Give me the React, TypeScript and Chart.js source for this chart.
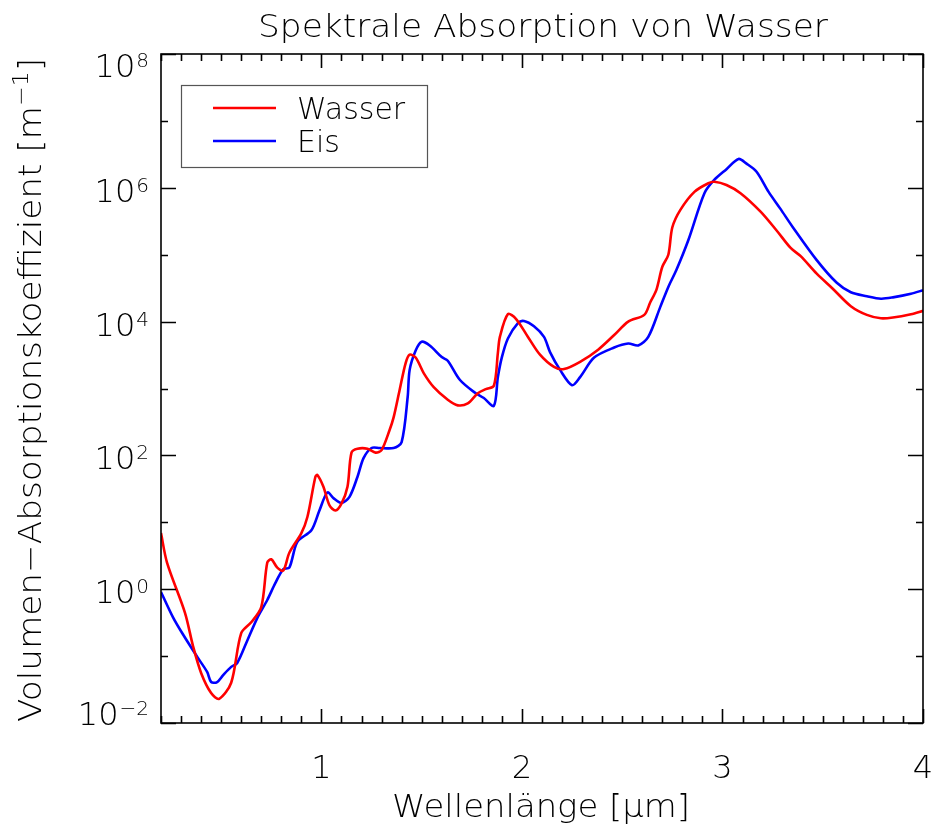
import React, { useEffect, useRef } from "react";
import { Chart, registerables } from "chart.js";

Chart.register(...registerables);

// Spectral absorption of liquid water (Wasser) — wavelength [µm], coefficient [1/m]
const wasserWavelength = [
  0.2, 0.23, 0.32, 0.36, 0.4, 0.45, 0.49, 0.55, 0.6, 0.65, 0.7, 0.73, 0.75, 0.78, 0.81, 0.84,
  0.9, 0.93, 0.97, 0.98, 1.01, 1.04, 1.07, 1.1, 1.13, 1.15, 1.18, 1.23, 1.27, 1.3, 1.34, 1.36,
  1.39, 1.42, 1.44, 1.47, 1.51, 1.56, 1.63, 1.68, 1.73, 1.78, 1.82, 1.86, 1.88, 1.89, 1.93,
  1.97, 2.03, 2.09, 2.16, 2.21, 2.29, 2.38, 2.46, 2.53, 2.61, 2.64, 2.67, 2.7, 2.73, 2.75,
  2.79, 2.86, 2.93, 2.96, 3.02, 3.09, 3.19, 3.27, 3.34, 3.39, 3.47, 3.55, 3.64, 3.72, 3.79,
  3.85, 3.94, 4.0,
];
const wasserAbsorption = [
  6.9, 2.5, 0.44, 0.14, 0.056, 0.028, 0.023, 0.04, 0.22, 0.32, 0.54, 2.5, 2.8, 2.1, 1.9, 3.5,
  6.9, 12, 48, 51, 34, 18, 15, 19, 34, 110, 126, 126, 110, 120, 240, 370,
  950, 2400, 3200, 2900, 1700, 1050, 680, 560, 600, 850, 980, 1100, 3400, 5900, 12900,
  11000, 5900, 3200, 2100, 1950, 2500, 3800, 6300, 10000, 12600, 19500, 29500, 66000, 100000, 257000,
  468000, 870000, 1170000, 1230000, 1100000, 830000, 440000, 230000, 126000, 95000, 52000, 31000, 17000, 12600, 11200,
  11500, 12900, 14500,
];

// Ice (Eis)
const eisWavelength = [
  0.2, 0.26, 0.31, 0.38, 0.43, 0.45, 0.48, 0.51, 0.55, 0.58, 0.63, 0.68, 0.73, 0.77, 0.81, 0.84,
  0.88, 0.95, 0.99, 1.03, 1.06, 1.1, 1.14, 1.18, 1.21, 1.25, 1.29, 1.36, 1.4, 1.43, 1.44, 1.47,
  1.5, 1.54, 1.6, 1.63, 1.69, 1.76, 1.81, 1.86, 1.88, 1.9, 1.93, 1.98, 2.01, 2.06, 2.11, 2.14,
  2.19, 2.25, 2.29, 2.36, 2.46, 2.53, 2.58, 2.63, 2.69, 2.73, 2.77, 2.83, 2.91, 2.96, 3.02,
  3.08, 3.12, 3.17, 3.23, 3.29, 3.35, 3.47, 3.57, 3.64, 3.72, 3.79, 3.85, 3.94, 4.0,
];
const eisAbsorption = [
  0.91, 0.38, 0.21, 0.098, 0.058, 0.041, 0.041, 0.052, 0.069, 0.079, 0.17, 0.37, 0.69, 1.23, 2.0, 2.1,
  5.1, 7.6, 15, 28, 23, 19.5, 24, 48, 91, 129, 129, 129, 158, 740, 1900, 3700,
  5000, 4400, 2950, 2600, 1350, 890, 720, 550, 1480, 2950, 5600, 9500, 10200, 8500, 5900, 3500,
  1900, 1120, 1480, 2900, 4100, 4700, 4400, 5900, 16600, 33000, 59000, 166000, 830000, 1320000, 1900000,
  2700000, 2300000, 1740000, 870000, 480000, 260000, 83000, 38000, 27500, 24000, 22000, 23000, 26000, 29500,
];

const seriesLabels = ["Wasser", "Eis"];
const seriesColors = ["#ff0000", "#0000ff"];
const xTickValues = [1, 2, 3, 4];
const yLabelValues = [1e-2, 1e0, 1e2, 1e4, 1e6, 1e8];
const yTickLabelBase = "10";
const yTickLabelExponents = ["\u22122", "0", "2", "4", "6", "8"];
const yDecadeValues = [1e-2, 1e-1, 1e0, 1e1, 1e2, 1e3, 1e4, 1e5, 1e6, 1e7, 1e8];
const titleText = "Spektrale Absorption von Wasser";
const xTitleText = "Wellenlänge [\u03bcm]";
const yTitleMain = "Volumen\u2212Absorptionskoeffizient [m";
const yTitleSup = "\u22121";
const yTitleEnd = "]";

const FONT = '"DejaVu Sans", sans-serif';

function fitText(ctx: CanvasRenderingContext2D, text: string, x: number, y: number, size: number, width: number, align: "left" | "center") {
  ctx.font = `200 ${size}px ${FONT}`;
  const w = ctx.measureText(text).width;
  const s = width / w;
  ctx.save();
  ctx.translate(x, y);
  ctx.scale(s, 1);
  ctx.textAlign = align;
  ctx.textBaseline = "alphabetic";
  ctx.fillText(text, 0, 0);
  ctx.restore();
}

function fitParts(ctx: CanvasRenderingContext2D, parts: { t: string; size: number; dy: number }[], cx: number, y: number, width: number) {
  const widths = parts.map((p) => {
    ctx.font = `200 ${p.size}px ${FONT}`;
    return ctx.measureText(p.t).width;
  });
  const total = widths.reduce((s, w) => s + w, 0);
  const sc = width / total;
  ctx.save();
  ctx.translate(cx - width / 2, y);
  ctx.scale(sc, 1);
  ctx.textAlign = "left";
  ctx.textBaseline = "alphabetic";
  let x = 0;
  parts.forEach((p, i) => {
    ctx.font = `200 ${p.size}px ${FONT}`;
    ctx.fillText(p.t, x, p.dy);
    x += widths[i];
  });
  ctx.restore();
}

const framePlugin = {
  id: "frame",
  afterDraw(chart: any) {
    const { ctx, chartArea: a, scales } = chart;
    const xs = scales.x;
    const ys = scales.y;
    ctx.save();
    ctx.strokeStyle = "#000";
    ctx.fillStyle = "#000";
    ctx.lineWidth = 1.6;
    ctx.strokeRect(a.left, a.top, a.right - a.left, a.bottom - a.top);

    // x ticks every 0.1
    ctx.beginPath();
    for (let i = 2; i <= 40; i++) {
      const v = i / 10;
      const px = Math.round(xs.getPixelForValue(v)) + 0.5;
      const len = i % 10 === 0 ? 14 : 7;
      ctx.moveTo(px, a.bottom);
      ctx.lineTo(px, a.bottom - len);
      ctx.moveTo(px, a.top);
      ctx.lineTo(px, a.top + len);
    }
    // y ticks per decade
    yDecadeValues.forEach((v, i) => {
      const py = Math.round(ys.getPixelForValue(v)) + 0.5;
      const len = i % 2 === 0 ? 15 : 7;
      ctx.moveTo(a.left, py);
      ctx.lineTo(a.left + len, py);
      ctx.moveTo(a.right, py);
      ctx.lineTo(a.right - len, py);
    });
    ctx.stroke();

    // y tick labels
    yLabelValues.forEach((v, i) => {
      const py = ys.getPixelForValue(v);
      const c = Math.min(Math.max(py + 2, a.top + 11), a.bottom - 10);
      ctx.font = `200 20px ${FONT}`;
      const ew = ctx.measureText(yTickLabelExponents[i]).width;
      const right = 149;
      ctx.textAlign = "left";
      ctx.textBaseline = "alphabetic";
      ctx.fillText(yTickLabelExponents[i], right - ew, c - 12 + 14);
      ctx.font = `200 32px ${FONT}`;
      const bw = ctx.measureText(yTickLabelBase).width;
      ctx.fillText(yTickLabelBase, right - ew - 1 - bw, c + 12);
    });

    // x tick labels
    ctx.font = `200 32px ${FONT}`;
    ctx.textAlign = "center";
    xTickValues.forEach((v) => {
      ctx.fillText(String(v), xs.getPixelForValue(v), 778);
    });

    // titles
    fitText(ctx, titleText, 543, 37, 32, 570, "center");
    fitText(ctx, xTitleText, 541, 817, 32, 298, "center");
    ctx.save();
    ctx.translate(41, 390);
    ctx.rotate(-Math.PI / 2);
    fitParts(
      ctx,
      [
        { t: yTitleMain, size: 32, dy: 0 },
        { t: yTitleSup, size: 22, dy: -13 },
        { t: yTitleEnd, size: 32, dy: 0 },
      ],
      0,
      0,
      664
    );
    ctx.restore();

    // legend
    ctx.strokeStyle = "#555";
    ctx.lineWidth = 1.2;
    ctx.strokeRect(181.5, 85.5, 246, 82);
    const rows = [108, 141];
    chart.data.datasets.forEach((ds: any, i: number) => {
      ctx.strokeStyle = ds.borderColor;
      ctx.lineWidth = 2.4;
      ctx.beginPath();
      ctx.moveTo(213, rows[i]);
      ctx.lineTo(276, rows[i]);
      ctx.stroke();
      ctx.fillStyle = "#000";
      ctx.font = `200 30px ${FONT}`;
      ctx.textAlign = "left";
      ctx.fillText(ds.label, 297, rows[i] + 11);
    });
    ctx.restore();
  },
};

export default function App() {
  const ref = useRef<HTMLCanvasElement>(null);
  useEffect(() => {
    if (!ref.current) return;
    const chart = new Chart(ref.current, {
      type: "line",
      data: {
        datasets: [
          {
            label: seriesLabels[0],
            data: wasserWavelength.map((x, i) => ({ x, y: wasserAbsorption[i] })),
            borderColor: seriesColors[0],
            borderWidth: 2.6,
            pointRadius: 0,
            tension: 0.3,
            fill: false,
          },
          {
            label: seriesLabels[1],
            data: eisWavelength.map((x, i) => ({ x, y: eisAbsorption[i] })),
            borderColor: seriesColors[1],
            borderWidth: 2.6,
            pointRadius: 0,
            tension: 0.3,
            fill: false,
          },
        ],
      },
      options: {
        animation: false,
        responsive: false,
        devicePixelRatio: 1,
        layout: { padding: { top: 54, right: 8, left: 0, bottom: 0 } },
        plugins: { legend: { display: false }, title: { display: false }, tooltip: { enabled: false } },
        scales: {
          x: {
            type: "linear",
            min: 0.2,
            max: 4,
            grid: { display: false },
            border: { display: false },
            ticks: { display: false },
            afterFit: (s: any) => {
              s.height = 103;
            },
          },
          y: {
            type: "logarithmic",
            min: 1e-2,
            max: 1e8,
            grid: { display: false },
            border: { display: false },
            ticks: { display: false },
            afterFit: (s: any) => {
              s.width = 161;
            },
          },
        },
      },
      plugins: [framePlugin],
    });
    return () => chart.destroy();
  }, []);
  return (
    <div style={{ position: "absolute", left: 0, top: 0, width: 931, height: 826, background: "#fff" }}>
      <canvas ref={ref} width={931} height={826} />
    </div>
  );
}
